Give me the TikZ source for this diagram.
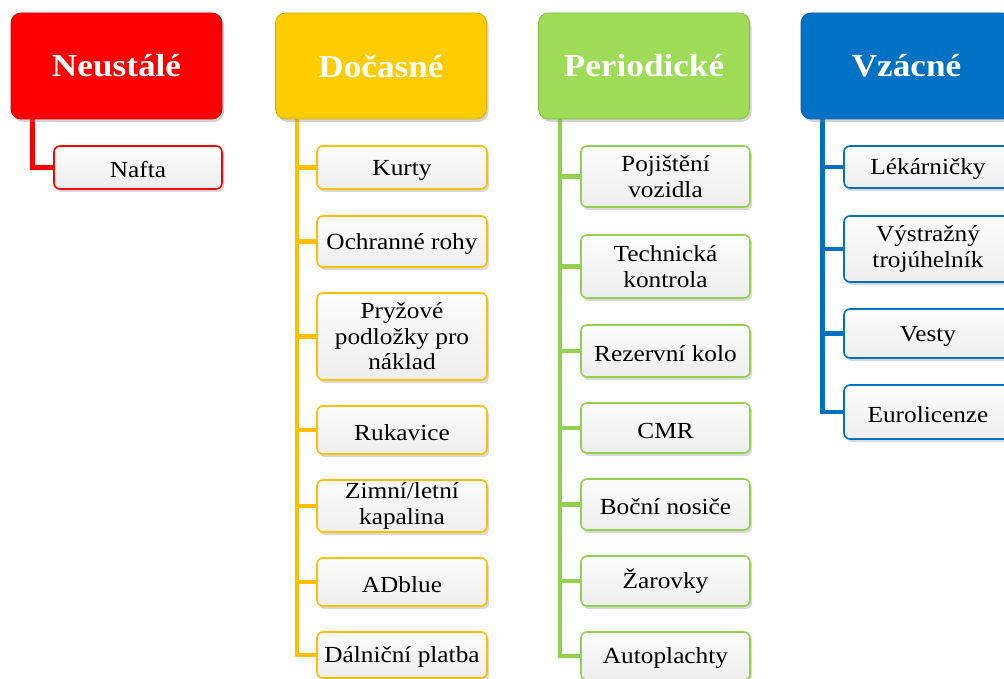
\documentclass[tikz,border=0pt]{standalone}
\usepackage{fontspec}
\setmainfont{Liberation Serif}[FakeStretch=1.1]
\usetikzlibrary{shadows,backgrounds}
\definecolor{cRed}{RGB}{255,0,0}
\definecolor{cRedH}{RGB}{252,0,0}
\definecolor{cYel}{RGB}{255,192,0}
\definecolor{cYelH}{RGB}{255,204,0}
\definecolor{cGrn}{RGB}{146,208,80}
\definecolor{cGrnH}{RGB}{158,220,88}
\definecolor{cBlu}{RGB}{0,112,192}
\definecolor{cBluH}{RGB}{0,114,198}
\definecolor{cFillTop}{RGB}{252,252,252}
\definecolor{cFillBot}{RGB}{238,238,238}
\tikzset{
  x=1pt, y=-1pt,
  head/.style={rounded corners=10pt, minimum width=211pt, minimum height=106pt,
    fill=#1, draw=#1!85!black, line width=0.8pt,
    text=white, font=\fontsize{32}{35}\selectfont\bfseries,
    drop shadow={opacity=0.35, shadow xshift=2pt, shadow yshift=-3pt}},
  leaf/.style={rounded corners=6pt, draw=#1, line width=1.6pt,
    top color=cFillTop, bottom color=cFillBot, align=center, inner sep=2pt,
    font=\fontsize{23}{25.5}\selectfont,
    execute at begin node={\rule{0pt}{0.88em}},
    drop shadow={opacity=0.3, shadow xshift=2pt, shadow yshift=-3pt}},
  conn/.style={draw=#1, line width=4.5pt},
}
\begin{document}
\begin{tikzpicture}
\useasboundingbox (0,0) rectangle (1004,679);
\clip (0,0) rectangle (1004,679);
% headers
\node[head=cRedH] (h1) at (116.5,66) {Neustálé};
\node[head=cYelH] (h2) at (381,66) {Dočasné};
\node[head=cGrnH] (h3) at (644,66) {Periodické};
\node[head=cBluH] (h4) at (906.5,66) {Vzácné};
% column 1
\node[leaf=cRed, minimum width=168pt, minimum height=43pt] (a1) at (138,167.5) {Nafta};
% column 2
\node[leaf=cYel, minimum width=170pt, minimum height=43pt] (b1) at (402,167.5) {Kurty};
\node[leaf=cYel, minimum width=170pt, minimum height=51pt] (b2) at (402,241.5) {Ochranné rohy};
\node[leaf=cYel, minimum width=170pt, minimum height=87pt] (b3) at (402,336.5) {Pryžové\\podložky pro\\náklad};
\node[leaf=cYel, minimum width=170pt, minimum height=48pt] (b4) at (402,430) {Rukavice};
\node[leaf=cYel, minimum width=170pt, minimum height=52pt] (b5) at (402,506) {Zimní/letní\\kapalina};
\node[leaf=cYel, minimum width=170pt, minimum height=48pt] (b6) at (402,582) {ADblue};
\node[leaf=cYel, minimum width=170pt, minimum height=46pt] (b7) at (402,655) {Dálniční platba};
% column 3
\node[leaf=cGrn, minimum width=169pt, minimum height=61pt] (c1) at (665.5,176.5) {Pojištění\\vozidla};
\node[leaf=cGrn, minimum width=169pt, minimum height=63pt] (c2) at (665.5,266.5) {Technická\\kontrola};
\node[leaf=cGrn, minimum width=169pt, minimum height=52pt] (c3) at (665.5,351) {Rezervní kolo};
\node[leaf=cGrn, minimum width=169pt, minimum height=50pt] (c4) at (665.5,428) {CMR};
\node[leaf=cGrn, minimum width=169pt, minimum height=51pt] (c5) at (665.5,504.5) {Boční nosiče};
\node[leaf=cGrn, minimum width=169pt, minimum height=50pt] (c6) at (665.5,581) {Žarovky};
\node[leaf=cGrn, minimum width=169pt, minimum height=48pt] (c7) at (665.5,656) {Autoplachty};
% column 4
\node[leaf=cBlu, minimum width=168pt, minimum height=42pt] (d1) at (928,167) {Lékárničky};
\node[leaf=cBlu, minimum width=168pt, minimum height=66pt] (d2) at (928,249) {Výstražný\\trojúhelník};
\node[leaf=cBlu, minimum width=168pt, minimum height=49pt] (d3) at (928,333.5) {Vesty};
\node[leaf=cBlu, minimum width=168pt, minimum height=54pt] (d4) at (928,412) {Eurolicenze};
% connectors
\begin{pgfonlayer}{background}
\draw[conn=cRed] ([xshift=22pt]h1.south west) |- (a1.west);
\foreach \n in {b1,b2,b3,b4,b5,b6,b7}
  \draw[conn=cYel] ([xshift=22pt]h2.south west) |- (\n.west);
\foreach \n in {c1,c2,c3,c4,c5,c6,c7}
  \draw[conn=cGrn] ([xshift=22pt]h3.south west) |- (\n.west);
\foreach \n in {d1,d2,d3,d4}
  \draw[conn=cBlu] ([xshift=22pt]h4.south west) |- (\n.west);
\end{pgfonlayer}
\end{tikzpicture}
\end{document}
